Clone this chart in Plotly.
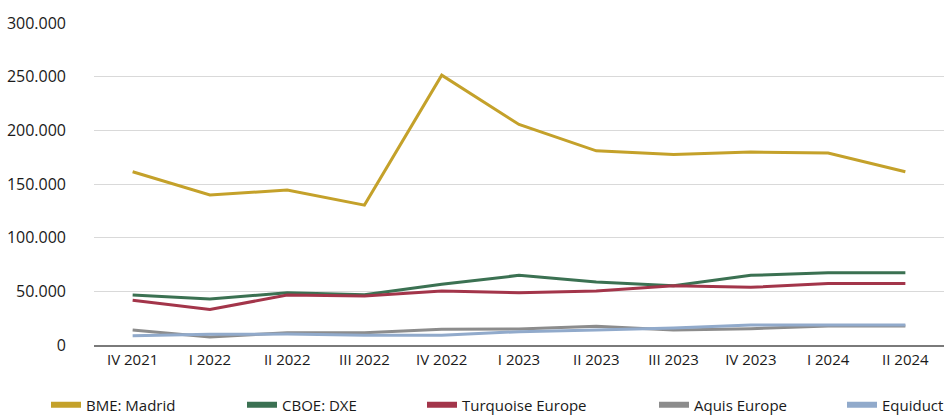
import plotly.graph_objects as go

categories = ["IV 2021", "I 2022", "II 2022", "III 2022", "IV 2022", "I 2023",
              "II 2023", "III 2023", "IV 2023", "I 2024", "II 2024"]

bme_madrid = [161400, 139700, 144300, 130300, 251400, 205500, 180900, 177500, 179700, 178800, 161400]
cboe_dxe = [46500, 42800, 48700, 46800, 56500, 64900, 58700, 55200, 64900, 67300, 67300]
turquoise = [41600, 33200, 46500, 45600, 50300, 48700, 50300, 55200, 53700, 57400, 57400]
aquis = [14000, 7400, 11500, 11500, 14600, 14900, 17400, 14000, 15200, 17700, 17700]
equiduct = [8700, 10000, 10200, 9000, 9000, 12400, 14000, 15800, 18600, 18600, 18600]

series_names = ["BME: Madrid", "CBOE: DXE", "Turquoise Europe", "Aquis Europe", "Equiduct"]
series_values = [bme_madrid, cboe_dxe, turquoise, aquis, equiduct]
series_colors = ["#C4A12A", "#3B7152", "#A3354A", "#8C8C8C", "#91AACB"]

# left edge (px) of each legend entry, and legend ids
legend_ids = ["legend", "legend2", "legend3", "legend4", "legend5"]
legend_left_px = [46, 242, 422, 654, 842]

L, R, T, B = 94, 2, 23, 72
W, H = 946, 417
plot_w = W - L - R
plot_h = H - T - B

fig = go.Figure()
for name, vals, col in zip(series_names, series_values, series_colors):
    fig.add_trace(go.Scatter(x=categories, y=vals, mode="lines", name=name,
                             line=dict(color=col, width=3), showlegend=False))
for name, col, lid in zip(series_names, series_colors, legend_ids):
    fig.add_trace(go.Scatter(x=[None], y=[None], mode="lines", name=name,
                             line=dict(color=col, width=6), showlegend=True,
                             legend=lid))

legend_layout = {}
for lid, lx in zip(legend_ids, legend_left_px):
    legend_layout[lid] = dict(orientation="h", x=(lx - L) / plot_w, xanchor="left",
                              y=-(405 - (H - B)) / plot_h, yanchor="middle",
                              font=dict(size=15), bgcolor="rgba(0,0,0,0)",
                              itemwidth=30)

fig.update_layout(
    width=W, height=H,
    margin=dict(l=L, r=R, t=T, b=B, autoexpand=False),
    paper_bgcolor="white", plot_bgcolor="white",
    separators=",.",
    font=dict(family="Open Sans", size=14, color="#1a1a1a"),
    showlegend=True,
    **legend_layout,
)
fig.update_xaxes(type="category", range=[-0.5, 10.5], showgrid=False,
                 showline=True, linecolor="#7a7a7a", linewidth=1.5,
                 ticks="", tickfont=dict(size=15))
fig.update_yaxes(range=[0, 300000], dtick=50000, tickformat=",d",
                 showgrid=True, gridcolor="#D9D9D9", gridwidth=1,
                 zeroline=False, showline=False, ticks="",
                 ticklabelstandoff=27, tickfont=dict(size=16))

fig.write_html("out.html", config={"displayModeBar": False},
               post_script="document.body.style.margin='0';document.body.style.overflow='hidden';")
